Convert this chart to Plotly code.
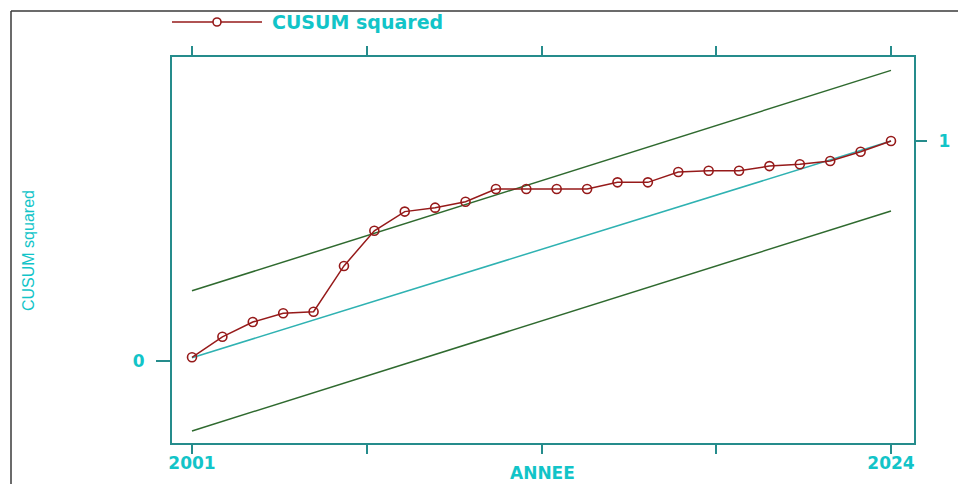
import plotly.graph_objects as go

# ---- data ----
years = list(range(2001, 2025))
cusum_sq = [0.017, 0.110, 0.177, 0.217, 0.224, 0.432, 0.592, 0.679, 0.697, 0.724,
            0.782, 0.782, 0.782, 0.782, 0.812, 0.812, 0.859, 0.865, 0.865, 0.886,
            0.894, 0.909, 0.951, 1.000]
mean_line = [0.015, 1.0]          # expected path, start / end
upper_bound = [0.319, 1.321]
lower_bound = [-0.318, 0.682]
bound_years = [2001, 2024]
x_tickvals = [2001, 2006.75, 2012.5, 2018.25, 2024]
x_ticktext = ["2001", "", "", "", "2024"]

TXT = "#12c4c8"
AX = "#258c8c"
RED = "#961a1a"
GREEN = "#2f6a2f"
TEAL = "#2fb2b2"
FONT = "DejaVu Sans"

fig = go.Figure()
fig.add_trace(go.Scatter(x=bound_years, y=upper_bound, mode="lines",
                         line=dict(color=GREEN, width=1.5), showlegend=False, hoverinfo="skip"))
fig.add_trace(go.Scatter(x=bound_years, y=lower_bound, mode="lines",
                         line=dict(color=GREEN, width=1.5), showlegend=False, hoverinfo="skip"))
fig.add_trace(go.Scatter(x=bound_years, y=mean_line, mode="lines",
                         line=dict(color=TEAL, width=1.5), showlegend=False, hoverinfo="skip"))
fig.add_trace(go.Scatter(x=years, y=cusum_sq, mode="lines+markers", name="CUSUM squared",
                         line=dict(color=RED, width=1.5),
                         marker=dict(symbol="circle-open", size=9, color=RED, line=dict(width=1.6)),
                         showlegend=False))
# invisible trace to anchor the right axis
fig.add_trace(go.Scatter(x=bound_years, y=mean_line, yaxis="y2", mode="lines",
                         line=dict(width=0), showlegend=False, hoverinfo="skip"))

px_per_year = (891 - 192) / 23
x0 = 2001 - (192 - 172) / px_per_year
x1 = 2024 + (914 - 891) / px_per_year
yr = [(361 - 443) / 220, (361 - 57) / 220]

fig.update_layout(
    width=958, height=484,
    margin=dict(l=172, r=44, t=57, b=41, autoexpand=False),
    paper_bgcolor="white", plot_bgcolor="white",
    showlegend=False,
    xaxis=dict(range=[x0, x1], tickmode="array", tickvals=x_tickvals, ticktext=x_ticktext,
               showgrid=False, zeroline=False, showline=True, linecolor=AX, linewidth=2,
               mirror="ticks", ticks="outside", ticklen=9, tickwidth=2, tickcolor=AX,
               automargin=False, ticklabelstandoff=-5,
               tickfont=dict(family=FONT, size=17, color=TXT, weight="bold")),
    yaxis=dict(range=yr, tickmode="array", tickvals=[0], ticktext=["0"],
               showgrid=False, zeroline=False, showline=True, linecolor=AX, linewidth=2,
               ticks="outside", ticklen=14, tickwidth=2, tickcolor=AX, ticklabelstandoff=8,
               automargin=False,
               tickfont=dict(family=FONT, size=17, color=TXT, weight="bold")),
    yaxis2=dict(range=yr, overlaying="y", side="right", tickmode="array", tickvals=[1],
                ticktext=["1"], showgrid=False, zeroline=False, showline=True, linecolor=AX,
                linewidth=2, ticks="outside", ticklen=11, tickwidth=2, tickcolor=AX,
                ticklabelstandoff=8, automargin=False,
                tickfont=dict(family=FONT, size=17, color=TXT, weight="bold")),
)

W, H = 742, 386
def px(x):
    return (x - 172) / W
def py(y):
    return (443 - y) / H

# axis titles
fig.add_annotation(xref="paper", yref="paper", x=px(542), y=py(473), xanchor="center", yanchor="middle",
                   text="ANNEE", showarrow=False,
                   font=dict(family=FONT, size=17, color=TXT, weight="bold"))
fig.add_annotation(xref="paper", yref="paper", x=px(28), y=py(251), xanchor="center", yanchor="middle",
                   text="CUSUM squared", showarrow=False, textangle=-90,
                   font=dict(family="Liberation Sans Narrow, Liberation Sans, sans-serif",
                             size=16, color=TXT))

# outer frame
fig.add_shape(type="line", xref="paper", yref="paper", x0=px(11), x1=px(958), y0=py(11), y1=py(11),
              line=dict(color="#3a3a3a", width=1.5))
fig.add_shape(type="line", xref="paper", yref="paper", x0=px(11), x1=px(11), y0=py(11), y1=py(484),
              line=dict(color="#3a3a3a", width=1.5))
# legend key
fig.add_shape(type="line", xref="paper", yref="paper", x0=px(172), x1=px(262), y0=py(22), y1=py(22),
              line=dict(color=RED, width=1.5))
fig.add_shape(type="circle", xref="paper", yref="paper", x0=px(213), x1=px(221), y0=py(18), y1=py(26),
              line=dict(color=RED, width=1.6), fillcolor="white")
fig.add_annotation(xref="paper", yref="paper", x=px(270), y=py(22), xanchor="left", yanchor="middle",
                   text="CUSUM squared", showarrow=False,
                   font=dict(family=FONT, size=19, color=TXT, weight="bold"))

fig.write_html("out.html", config={"displayModeBar": False},
               post_script="document.body.style.margin='0';")
